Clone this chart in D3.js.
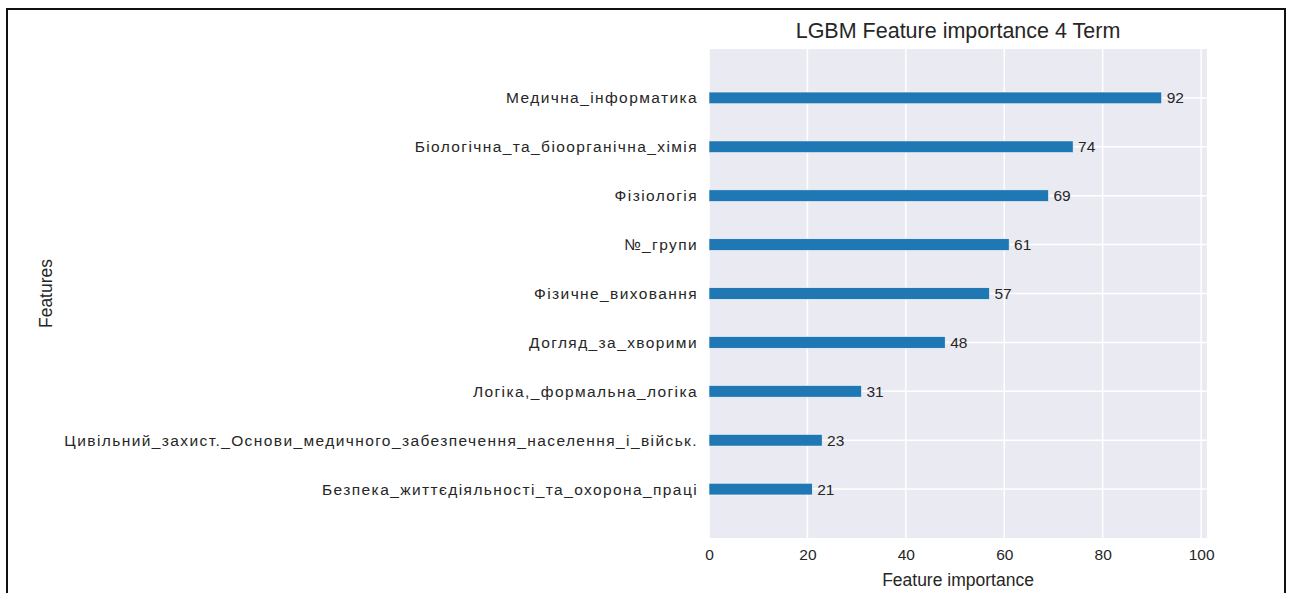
<!DOCTYPE html>
<html>
<head>
<meta charset="utf-8">
<script src="https://cdn.jsdelivr.net/npm/d3@7"></script>
<style>
    body { margin: 0; background: #fff; }
    svg { display: block; font-family: "Liberation Sans", Arial, sans-serif; }
</style>
</head>
<body>
<svg id="chart_lgbm" width="1290" height="593"></svg>
<script>
// Features, bottom to top (same order lightgbm plots them)
const features = [
    "Безпека_життєдіяльності_та_охорона_праці",
    "Цивільний_захист._Основи_медичного_забезпечення_населення_і_військ.",
    "Логіка,_формальна_логіка",
    "Догляд_за_хворими",
    "Фізичне_виховання",
    "№_групи",
    "Фізіологія",
    "Біологічна_та_біоорганічна_хімія",
    "Медична_інформатика"
];
const importance = [21, 23, 31, 48, 57, 61, 69, 74, 92];
const xTicks = [0, 20, 40, 60, 80, 100];

const titleText = "LGBM Feature importance 4 Term";
const xLabelText = "Feature importance";
const yLabelText = "Features";

const width = 1290;
const height = 593;
const margin = { top: 49, right: 83, bottom: 55, left: 709 };
const plotWidth = width - margin.left - margin.right;
const plotHeight = height - margin.top - margin.bottom;

const textColour = "#262626";
const barColour = "#1f77b4";

const svg = d3.select("#chart_lgbm");

// Outer frame around the picture
svg.append("rect")
    .attr("x", 7)
    .attr("y", 9)
    .attr("width", 1278)
    .attr("height", 600)
    .attr("fill", "none")
    .attr("stroke", "#111")
    .attr("stroke-width", 2);

const g = svg.append("g")
    .attr("transform", `translate(${margin.left}, ${margin.top})`);

// lightgbm: xlim = (0, max * 1.1), ylim = (-1, n)
const xScale = d3.scaleLinear()
    .domain([0, d3.max(importance) * 1.1])
    .range([0, plotWidth]);

const yScale = d3.scaleLinear()
    .domain([-1, features.length])
    .range([plotHeight, 0]);

const barHeight = 0.24;

// Background
g.append("rect")
    .attr("width", plotWidth)
    .attr("height", plotHeight)
    .attr("fill", "#eaeaf2");

// Grid lines
g.append("g")
    .selectAll("line")
    .data(xTicks)
    .join("line")
    .attr("x1", d => xScale(d))
    .attr("x2", d => xScale(d))
    .attr("y1", 0)
    .attr("y2", plotHeight)
    .attr("stroke", "#fff")
    .attr("stroke-width", 1.5);

g.append("g")
    .selectAll("line")
    .data(features)
    .join("line")
    .attr("x1", 0)
    .attr("x2", plotWidth)
    .attr("y1", (d, i) => yScale(i))
    .attr("y2", (d, i) => yScale(i))
    .attr("stroke", "#fff")
    .attr("stroke-width", 1.5);

// Bars
g.append("g")
    .selectAll("rect")
    .data(importance)
    .join("rect")
    .attr("x", xScale(0))
    .attr("y", (d, i) => yScale(i + barHeight / 2))
    .attr("width", d => xScale(d) - xScale(0))
    .attr("height", yScale(0) - yScale(barHeight))
    .attr("fill", barColour)
    .attr("stroke", "#fff")
    .attr("stroke-width", 0.6);

// Value labels (placed at x + 1 like lightgbm)
g.append("g")
    .selectAll("text")
    .data(importance)
    .join("text")
    .attr("x", d => xScale(d + 1))
    .attr("y", (d, i) => yScale(i))
    .attr("dy", "0.35em")
    .attr("fill", textColour)
    .style("font-size", "15.5px")
    .text(d => d);

// X axis
const xAxis = d3.axisBottom(xScale).tickValues(xTicks).tickSize(0).tickPadding(11);
g.append("g")
    .attr("class", "x-axis")
    .attr("transform", `translate(0, ${plotHeight})`)
    .call(xAxis)
    .call(a => a.select(".domain").remove())
    .selectAll("text")
    .attr("fill", textColour)
    .style("font-size", "15.5px")
    .style("font-family", "'Liberation Sans', Arial, sans-serif");

// Y axis - the cyrillic labels are set wider in the original, so add some letter spacing
const yAxis = d3.axisLeft(yScale)
    .tickValues(d3.range(features.length))
    .tickFormat(i => features[i])
    .tickSize(0)
    .tickPadding(11);
g.append("g")
    .attr("class", "y-axis")
    .call(yAxis)
    .call(a => a.select(".domain").remove())
    .selectAll("text")
    .attr("fill", textColour)
    .style("font-size", "15.5px")
    .style("letter-spacing", "1.4px")
    .style("font-family", "'Liberation Sans', Arial, sans-serif");

// Title and axis labels
svg.append("text")
    .attr("x", margin.left + plotWidth / 2)
    .attr("y", 38)
    .attr("text-anchor", "middle")
    .attr("fill", textColour)
    .style("font-size", "21.5px")
    .text(titleText);

svg.append("text")
    .attr("x", margin.left + plotWidth / 2)
    .attr("y", 586)
    .attr("text-anchor", "middle")
    .attr("fill", textColour)
    .style("font-size", "17.5px")
    .text(xLabelText);

svg.append("text")
    .attr("transform", `translate(52, ${margin.top + plotHeight / 2}) rotate(-90)`)
    .attr("text-anchor", "middle")
    .attr("fill", textColour)
    .style("font-size", "17.5px")
    .text(yLabelText);
</script>
</body>
</html>
